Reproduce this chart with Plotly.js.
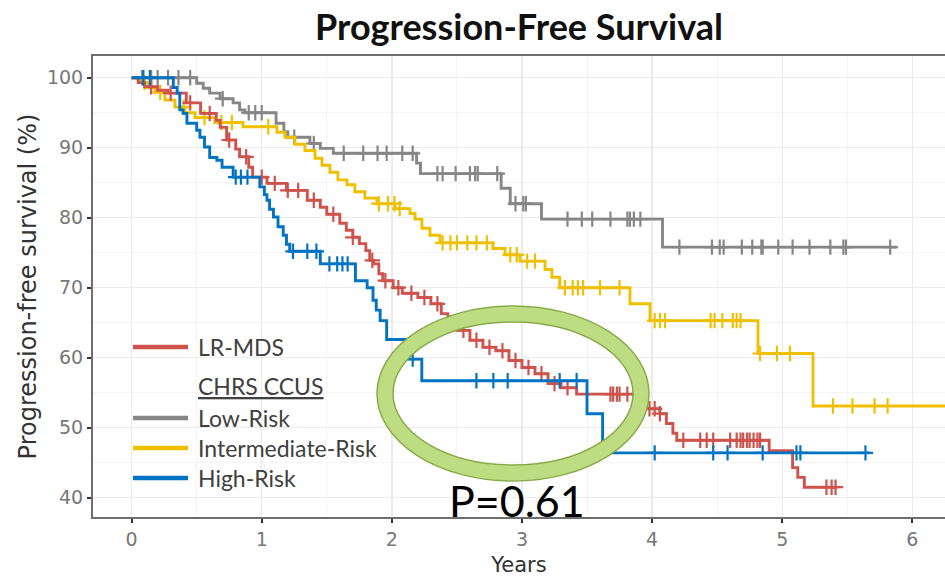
<!DOCTYPE html>
<html>
<head>
<meta charset="utf-8">
<script src="https://cdn.plot.ly/plotly-3.0.1.min.js"></script>
<style>html,body{margin:0;padding:0;background:#fff;overflow:hidden;}#chart{width:945px;height:581px;}</style>
</head>
<body>
<div id="chart"></div>
<script>
// ---------- data (years, survival %) ----------
const lrmdsTimes = [0,0.05,0.1,0.2,0.28,0.42,0.53,0.65,0.68,0.73,0.8,0.83,0.9,0.93,1.04,1.19,1.35,1.45,1.5,1.6,1.65,1.7,1.75,1.8,1.83,1.86,1.9,1.93,2.01,2.08,2.2,2.3,2.38,2.43,2.5,2.6,2.7,2.8,2.9,3.0,3.1,3.2,3.3,3.42,3.86,3.92,4.06,4.11,4.16,4.19,4.9,5.08,5.12,5.17,5.24,5.42];
const lrmdsSurv  = [100,99.3,98.7,98.2,97.8,96.4,94.9,93.9,92.9,91.1,89.8,88.7,87.2,85.8,84.9,83.9,82.5,81.5,80.5,79.2,78.2,77.2,76.3,75.3,73.9,73.4,72.0,71.0,70.0,69.2,68.6,67.7,66.3,65.0,63.9,62.5,61.5,61.0,59.6,58.6,57.7,56.3,55.7,54.8,53.6,52.7,52.0,50.6,49.2,48.2,46.7,44.3,42.9,41.5,41.5,41.5];
const lrmdsCensor = [0.15,0.3,0.45,0.6,0.75,0.88,1.0,1.1,1.2,1.28,1.4,1.55,1.7,1.85,1.95,2.05,2.15,2.25,2.35,2.45,2.55,2.65,2.75,2.85,2.95,3.05,3.15,3.25,3.35,3.68,3.7,3.73,3.75,3.81,3.98,4.02,4.06,4.24,4.37,4.42,4.47,4.6,4.65,4.68,4.7,4.73,4.75,4.78,4.81,4.83,5.34,5.38,5.41];

const lowTimes = [0,0.5,0.55,0.6,0.68,0.78,0.83,0.87,1.11,1.17,1.2,1.37,1.45,1.55,2.19,2.22,2.84,2.91,3.15,4.08,5.88];
const lowSurv  = [100,99.2,98.5,97.8,97.0,96.4,95.4,95.0,93.5,92.3,91.5,90.6,89.9,89.2,87.8,86.3,84.2,82.0,79.8,75.8,75.8];
const lowCensor = [0.08,0.15,0.2,0.28,0.36,0.45,0.7,0.9,0.95,1.0,1.25,1.4,1.63,1.78,1.89,1.96,2.08,2.16,2.35,2.39,2.49,2.6,2.64,2.66,2.81,2.95,3.01,3.03,3.35,3.46,3.54,3.68,3.81,3.83,3.86,3.91,4.21,4.46,4.52,4.55,4.69,4.77,4.84,4.85,4.97,5.08,5.21,5.37,5.47,5.49,5.83];

const intTimes = [0,0.064,0.125,0.18,0.256,0.333,0.41,0.487,0.64,0.856,1.117,1.178,1.255,1.332,1.41,1.463,1.524,1.585,1.655,1.716,1.793,1.885,2.024,2.139,2.178,2.231,2.293,2.37,2.777,2.87,2.985,3.177,3.23,3.29,3.83,3.984,4.814,5.237,6.4];
const intSurv  = [100,99.3,98.6,97.9,96.8,95.8,95.0,94.3,93.6,93.0,92.2,91.5,90.5,89.6,88.5,87.5,86.5,85.4,84.7,83.7,82.8,82.0,81.3,80.6,79.8,78.5,77.5,76.4,75.6,74.7,73.8,72.6,71.5,70.0,67.7,65.3,60.6,53.1,53.1];
const intCensor = [0.1,0.22,0.4,0.56,0.69,0.77,1.05,1.9,1.97,2.02,2.06,2.39,2.45,2.5,2.58,2.65,2.73,2.91,2.96,3.04,3.1,3.33,3.39,3.43,3.47,3.6,3.75,4.02,4.06,4.1,4.45,4.48,4.54,4.62,4.65,4.68,4.83,4.96,5.06,5.39,5.54,5.71,5.81];

const highTimes = [0,0.32,0.35,0.37,0.395,0.425,0.5,0.525,0.56,0.6,0.655,0.695,0.78,0.985,1.02,1.04,1.06,1.09,1.125,1.165,1.19,1.215,1.45,1.72,1.81,1.855,1.88,1.91,1.96,2.115,2.23,3.5,3.62,5.675];
const highSurv  = [100,98.6,97.8,95.4,94.9,93.5,92.5,91.5,90.1,88.6,88.2,87.2,85.8,84.4,83.3,82.5,81.2,80.1,78.7,77.5,76.2,75.2,73.4,71.0,70.0,68.2,66.8,65.3,62.6,59.8,56.7,52.0,46.4,46.4];
const highCensor = [0.09,0.14,0.8,0.84,0.89,1.24,1.35,1.42,1.52,1.58,1.62,1.66,2.16,2.65,2.78,2.89,3.29,3.42,4.02,4.47,4.58,4.85,5.11,5.14,5.64];

const legendLabels = ['LR-MDS','Low-Risk','Intermediate-Risk','High-Risk'];
const legendHeader = 'CHRS CCUS';
const pValueText = 'P=0.61';
const colors = {lrmds:'#CD534C', low:'#868686', int:'#EFC000', high:'#0073C2'};

// ---------- helpers ----------
function stepAt(times, surv, t){
  let v = surv[0];
  for(let i=0;i<times.length;i++){ if(times[i] <= t) v = surv[i]; }
  return v;
}
function curve(times, surv, censor, color){
  return [
    {x:times, y:surv, type:'scatter', mode:'lines', line:{shape:'hv', color:color, width:2.9}, showlegend:false, hoverinfo:'skip'},
    {x:censor, y:censor.map(t=>stepAt(times,surv,t)), type:'scatter', mode:'markers',
     marker:{symbol:'cross-thin', size:11, line:{color:color, width:2.2}}, showlegend:false, hoverinfo:'skip'}
  ];
}
const data = [].concat(
  curve(lowTimes, lowSurv, lowCensor, colors.low),
  curve(intTimes, intSurv, intCensor, colors.int),
  curve(lrmdsTimes, lrmdsSurv, lrmdsCensor, colors.lrmds),
  curve(highTimes, highSurv, highCensor, colors.high)
);

// pixel -> paper conversion for decorations
const M = {l:93, r:0, t:56, b:64}, W = 945, H = 581;
const PW = W - M.l - M.r, PH = H - M.t - M.b;
const px = x => (x - M.l) / PW;
const py = y => 1 - (y - M.t) / PH;

const legendFont = {family:'Lato, "Open Sans", sans-serif', size:23, color:'#404040'};
const legendRows = [
  {label:legendLabels[0], color:colors.lrmds, y:347},
  {label:legendLabels[1], color:colors.low, y:418},
  {label:legendLabels[2], color:colors.int, y:448},
  {label:legendLabels[3], color:colors.high, y:478}
];
const shapes = [];
const annotations = [];
legendRows.forEach(r=>{
  shapes.push({type:'line', xref:'paper', yref:'paper', x0:px(133), x1:px(188), y0:py(r.y), y1:py(r.y), line:{color:r.color, width:4.5}, layer:'above'});
  annotations.push({xref:'paper', yref:'paper', x:px(196), y:py(r.y), xanchor:'left', yanchor:'middle', text:r.label, showarrow:false, font:legendFont});
});
annotations.push({xref:'paper', yref:'paper', x:px(196), y:py(386), xanchor:'left', yanchor:'middle', text:'<u>'+legendHeader+'</u>', showarrow:false, font:legendFont});

// green ellipse
shapes.push({type:'circle', xref:'paper', yref:'paper', x0:px(385), x1:px(641), y0:py(314), y1:py(473), line:{color:'#bedd82', width:15}, layer:'above'});
shapes.push({type:'circle', xref:'paper', yref:'paper', x0:px(377), x1:px(649), y0:py(306), y1:py(481), line:{color:'#86aa45', width:1.5}, layer:'above'});
shapes.push({type:'circle', xref:'paper', yref:'paper', x0:px(393), x1:px(633), y0:py(322), y1:py(465), line:{color:'#86aa45', width:1.5}, layer:'above'});

annotations.push({xref:'paper', yref:'paper', x:px(517), y:py(500), xanchor:'center', yanchor:'middle', text:pValueText, showarrow:false, font:{family:'Lato, "Open Sans", sans-serif', size:43, color:'#000'}});

const axisFont = {family:'"DejaVu Sans", sans-serif', size:19, color:'#777'};

const layout = {
  width:W, height:H,
  margin:M,
  paper_bgcolor:'#fff', plot_bgcolor:'#fff',
  title:{text:'<b>Progression-Free Survival</b>', x:519/W, xref:'container', xanchor:'center', y:1-27/H, yref:'container', yanchor:'middle',
         font:{family:'Lato, "Open Sans", sans-serif', size:36, color:'#111'}},
  xaxis:{
    range:[-0.297, (W - M.r - 131.7)/130.1],
    tick0:0, dtick:1, showgrid:true, gridcolor:'#ebebeb', gridwidth:1.3,
    minor:{dtick:0.5, tick0:0, showgrid:true, gridcolor:'#f4f4f4', gridwidth:1, ticks:''},
    zeroline:false, showline:true, linecolor:'#6e6e6e', linewidth:2, mirror:true,
    ticks:'outside', ticklen:4, tickwidth:2, tickcolor:'#333',
    tickfont:axisFont,
    title:{text:'Years', font:{family:'"DejaVu Sans", sans-serif', size:21, color:'#333'}, standoff:9},
    automargin:false, fixedrange:true
  },
  yaxis:{
    range:[37.24, 103.1],
    tick0:0, dtick:10, showgrid:true, gridcolor:'#ebebeb', gridwidth:1.3,
    minor:{dtick:5, tick0:0, showgrid:true, gridcolor:'#f4f4f4', gridwidth:1, ticks:''},
    zeroline:false, showline:true, linecolor:'#6e6e6e', linewidth:2, mirror:false,
    ticks:'outside', ticklen:4, tickwidth:2, tickcolor:'#333',
    tickfont:axisFont,
    title:{text:'Progression-free survival (%)', font:{family:'"DejaVu Sans", sans-serif', size:24, color:'#333'}, standoff:4},
    automargin:false, fixedrange:true
  },
  shapes:shapes,
  annotations:annotations,
  showlegend:false
};
Plotly.newPlot('chart', data, layout, {displayModeBar:false, staticPlot:true});
</script>
</body>
</html>
